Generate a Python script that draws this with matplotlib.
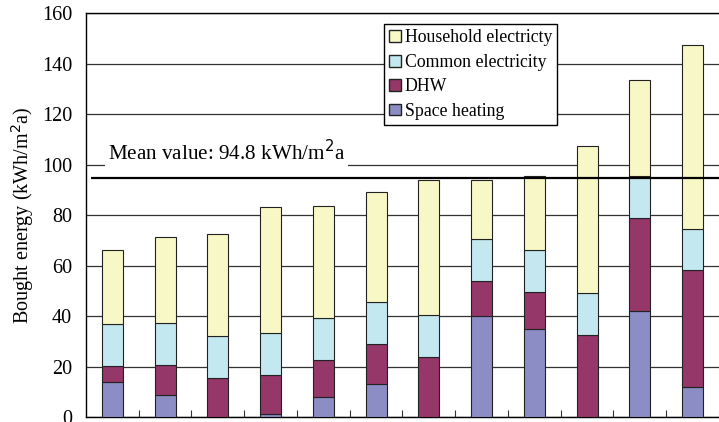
import matplotlib
matplotlib.use('Agg')
import matplotlib.pyplot as plt
import numpy as np
from matplotlib.patches import Patch

plt.rcParams['font.family'] = ['Liberation Serif', 'DejaVu Serif']

# kWh/m2a per building
space_heating = [13.9, 8.8, 0.0, 1.0, 8.0, 13.2, 0.0, 40.0, 34.7, 0.0, 42.1, 12.0]
dhw           = [6.3, 11.7, 15.3, 15.5, 14.6, 15.6, 23.9, 14.0, 14.7, 32.5, 36.8, 46.2]
common_el     = [16.5, 16.6, 16.7, 16.6, 16.6, 16.7, 16.5, 16.5, 16.6, 16.5, 16.5, 16.4]
household_el  = [29.6, 34.3, 40.7, 50.1, 44.4, 43.6, 53.6, 23.4, 29.6, 58.5, 38.1, 72.8]
mean_value = 94.8

series = [
    ('Space heating', space_heating, '#8b8dc4'),
    ('DHW', dhw, '#96376a'),
    ('Common electricity', common_el, '#c4e8f0'),
    ('Household electricty', household_el, '#f8f8c6'),
]

fig = plt.figure(figsize=(7.19, 4.22), dpi=100)
ax = fig.add_axes([0.1196, 0.0118, 0.8804, 0.957])

x = np.arange(len(space_heating))
bottom = np.zeros(len(x))
for name, vals, col in series:
    ax.bar(x, vals, width=0.4, bottom=bottom, color=col,
           edgecolor='#222222', linewidth=0.8, zorder=3)
    bottom += np.array(vals)

ax.set_xlim(-0.5, len(x) - 0.5)
ax.set_ylim(0, 160)
ax.set_yticks(np.arange(0, 161, 20))
ax.yaxis.grid(True, color='#333333', linewidth=0.9, zorder=0)
ax.set_axisbelow(True)
ax.tick_params(axis='y', length=0, labelsize=14.5, pad=10)
ax.set_xticks(x + 0.5)
ax.set_xticklabels([])
ax.tick_params(axis='x', direction='in', length=5, color='#333333')
ax.spines['right'].set_visible(False)
ax.spines['left'].set_linewidth(1.0)
ax.spines['bottom'].set_linewidth(1.0)
ax.spines['top'].set_linewidth(1.0)

ax.set_ylabel('Bought energy (kWh/m$^2$a)', fontsize=14.5, labelpad=4)

ax.plot([-0.4, len(x) - 0.5], [mean_value, mean_value], color='black',
        linewidth=1.6, zorder=4, solid_capstyle='butt')
ax.text(-0.08, 101.8, 'Mean value: 94.8 kWh/m$^2$a', fontsize=15.2,
        va='baseline', ha='left', zorder=5,
        bbox=dict(facecolor='white', edgecolor='none', pad=2))

handles = [Patch(facecolor=col, edgecolor='#222222', label=name)
           for name, vals, col in series[::-1]]
leg = ax.legend(handles=handles, loc='upper left', bbox_to_anchor=(0.471, 0.973),
                fontsize=12.8, frameon=True, fancybox=False, handlelength=0.65,
                handleheight=0.65, handletextpad=0.2, labelspacing=0.42,
                borderpad=0.3, borderaxespad=0)
leg.get_frame().set_edgecolor('black')
leg.get_frame().set_linewidth(1.0)
leg.get_frame().set_alpha(1)

fig.savefig('out.png', dpi=100)
